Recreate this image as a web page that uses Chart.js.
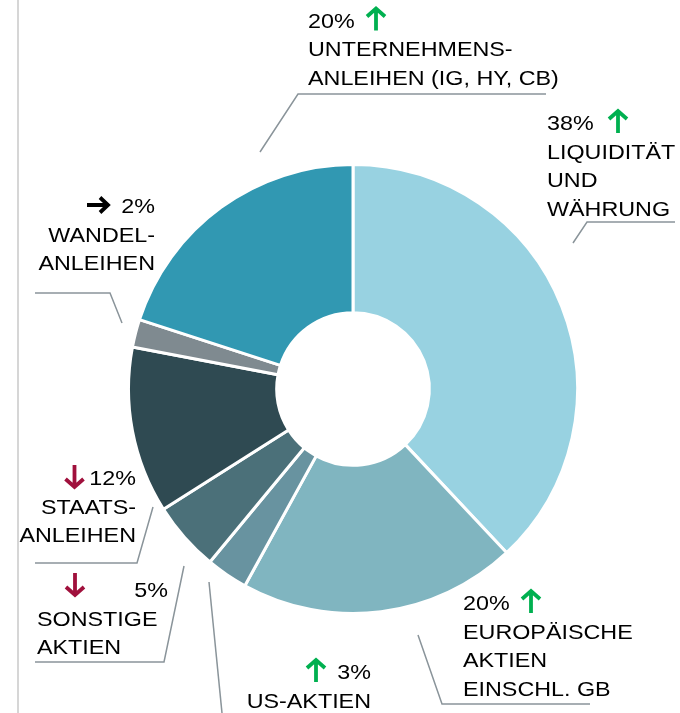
<!DOCTYPE html>
<html>
<head>
<meta charset="utf-8">
<script src="https://cdn.jsdelivr.net/npm/chart.js@4"></script>
<style>
  html, body { margin: 0; padding: 0; background: #fff; }
  #wrap { width: 680px; height: 713px; position: relative; }
</style>
</head>
<body>
<div id="wrap"><canvas id="myChart"></canvas></div>
<script>
const categories = [
  'Liquidität und Währung',
  'Europäische Aktien einschl. GB',
  'US-Aktien',
  'Sonstige Aktien',
  'Staatsanleihen',
  'Wandelanleihen',
  'Unternehmensanleihen (IG, HY, CB)',
];
const weights = [38, 20, 3, 5, 12, 2, 20];
const trends = ['up', 'up', 'up', 'down', 'down', 'flat', 'up'];
const labelLines = [
  ['LIQUIDITÄT', 'UND', 'WÄHRUNG'],
  ['EUROPÄISCHE', 'AKTIEN', 'EINSCHL. GB'],
  ['US-AKTIEN'],
  ['SONSTIGE', 'AKTIEN'],
  ['STAATS-', 'ANLEIHEN'],
  ['WANDEL-', 'ANLEIHEN'],
  ['UNTERNEHMENS-', 'ANLEIHEN (IG, HY, CB)'],
];

const sliceColors = ['#98d2e1', '#80b5c0', '#6893a0', '#4b7079', '#2f4a52', '#7f8a90', '#3198b2'];
const trendColors = { up: '#00b050', down: '#a0103c', flat: '#000000' };

// where each label block sits (first baseline, alignment, arrow and leader line)
const labelLayout = [
  { x: 547, y: 130, align: 'left', arrowX: 618, leader: [[675, 222], [587, 222], [573, 243]] },
  { x: 463, y: 610, align: 'left', arrowX: 531, leader: [[418, 635], [442, 704], [590, 704]] },
  { x: 371, y: 679, align: 'right', arrowX: 316, leader: [[209, 582], [222, 713]] },
  { x: 168, y: 597, align: 'right', restX: 37, restAlign: 'left', arrowX: 75, arrowDy: -4, leader: [[184, 566], [164, 662], [35, 662]] },
  { x: 136, y: 485, align: 'right', arrowX: 74.5, leader: [[153, 507], [137, 563], [35, 563]] },
  { x: 155, y: 213, align: 'right', arrowX: 98, leader: [[122, 323], [110, 293], [35, 293]] },
  { x: 308, y: 27.5, align: 'left', arrowX: 376, leader: [[260, 152], [298, 94], [546, 94]] },
];

const LINE_HEIGHT = 28.6;
const SCALE_X = 1.11;
const FONT = '21px "Liberation Sans", Arial, sans-serif';

function drawText(ctx, text, x, y, align) {
  const w = ctx.measureText(text).width * SCALE_X;
  const left = align === 'right' ? x - w : x;
  ctx.save();
  ctx.translate(left, y);
  ctx.scale(SCALE_X, 1);
  ctx.fillText(text, 0, 0);
  ctx.restore();
}

function drawArrow(ctx, cx, baseline, dir, color) {
  ctx.save();
  ctx.strokeStyle = color;
  ctx.lineWidth = 3.8;
  ctx.lineCap = 'butt';
  ctx.lineJoin = 'miter';
  ctx.beginPath();
  if (dir === 'flat') {
    const cy = baseline - 8;
    ctx.moveTo(cx - 11, cy);
    ctx.lineTo(cx + 9, cy);
    ctx.moveTo(cx + 2, cy - 7.5);
    ctx.lineTo(cx + 10, cy);
    ctx.lineTo(cx + 2, cy + 7.5);
  } else {
    const top = baseline - 20;
    const bottom = baseline + 3;
    if (dir === 'up') {
      ctx.moveTo(cx, bottom);
      ctx.lineTo(cx, top + 2);
      ctx.moveTo(cx - 9, top + 9);
      ctx.lineTo(cx, top + 1);
      ctx.lineTo(cx + 9, top + 9);
    } else {
      ctx.moveTo(cx, top);
      ctx.lineTo(cx, bottom - 2);
      ctx.moveTo(cx - 9, bottom - 9);
      ctx.lineTo(cx, bottom - 1);
      ctx.lineTo(cx + 9, bottom - 9);
    }
  }
  ctx.stroke();
  ctx.restore();
}

const labelPlugin = {
  id: 'sliceLabels',
  afterDraw(chart) {
    const ctx = chart.ctx;
    ctx.save();

    // thin frame line on the left
    ctx.strokeStyle = '#d6d6d6';
    ctx.lineWidth = 2;
    ctx.beginPath();
    ctx.moveTo(18, 0);
    ctx.lineTo(18, chart.height);
    ctx.stroke();

    ctx.font = FONT;
    ctx.textBaseline = 'alphabetic';
    ctx.fillStyle = '#000';

    weights.forEach((value, i) => {
      const lay = labelLayout[i];

      ctx.strokeStyle = '#8a949a';
      ctx.lineWidth = 1.5;
      ctx.beginPath();
      lay.leader.forEach(([px, py], k) => (k ? ctx.lineTo(px, py) : ctx.moveTo(px, py)));
      ctx.stroke();

      ctx.fillStyle = '#000';
      drawText(ctx, value + '%', lay.x, lay.y, lay.align);
      labelLines[i].forEach((line, k) => {
        drawText(ctx, line, lay.restX || lay.x, lay.y + LINE_HEIGHT * (k + 1), lay.restAlign || lay.align);
      });

      drawArrow(ctx, lay.arrowX, lay.y + (lay.arrowDy || 0), trends[i], trendColors[trends[i]]);
    });

    ctx.restore();
  },
};

new Chart(document.getElementById('myChart').getContext('2d'), {
  type: 'doughnut',
  data: {
    labels: categories,
    datasets: [
      {
        data: weights,
        backgroundColor: sliceColors,
        borderColor: '#ffffff',
        borderWidth: 3,
      },
    ],
  },
  options: {
    responsive: true,
    maintainAspectRatio: false,
    animation: false,
    cutout: '34%',
    layout: { padding: { left: 127, right: 101, top: 163, bottom: 98 } },
    plugins: {
      legend: { display: false },
      tooltip: { enabled: false },
    },
  },
  plugins: [labelPlugin],
});
</script>
</body>
</html>
